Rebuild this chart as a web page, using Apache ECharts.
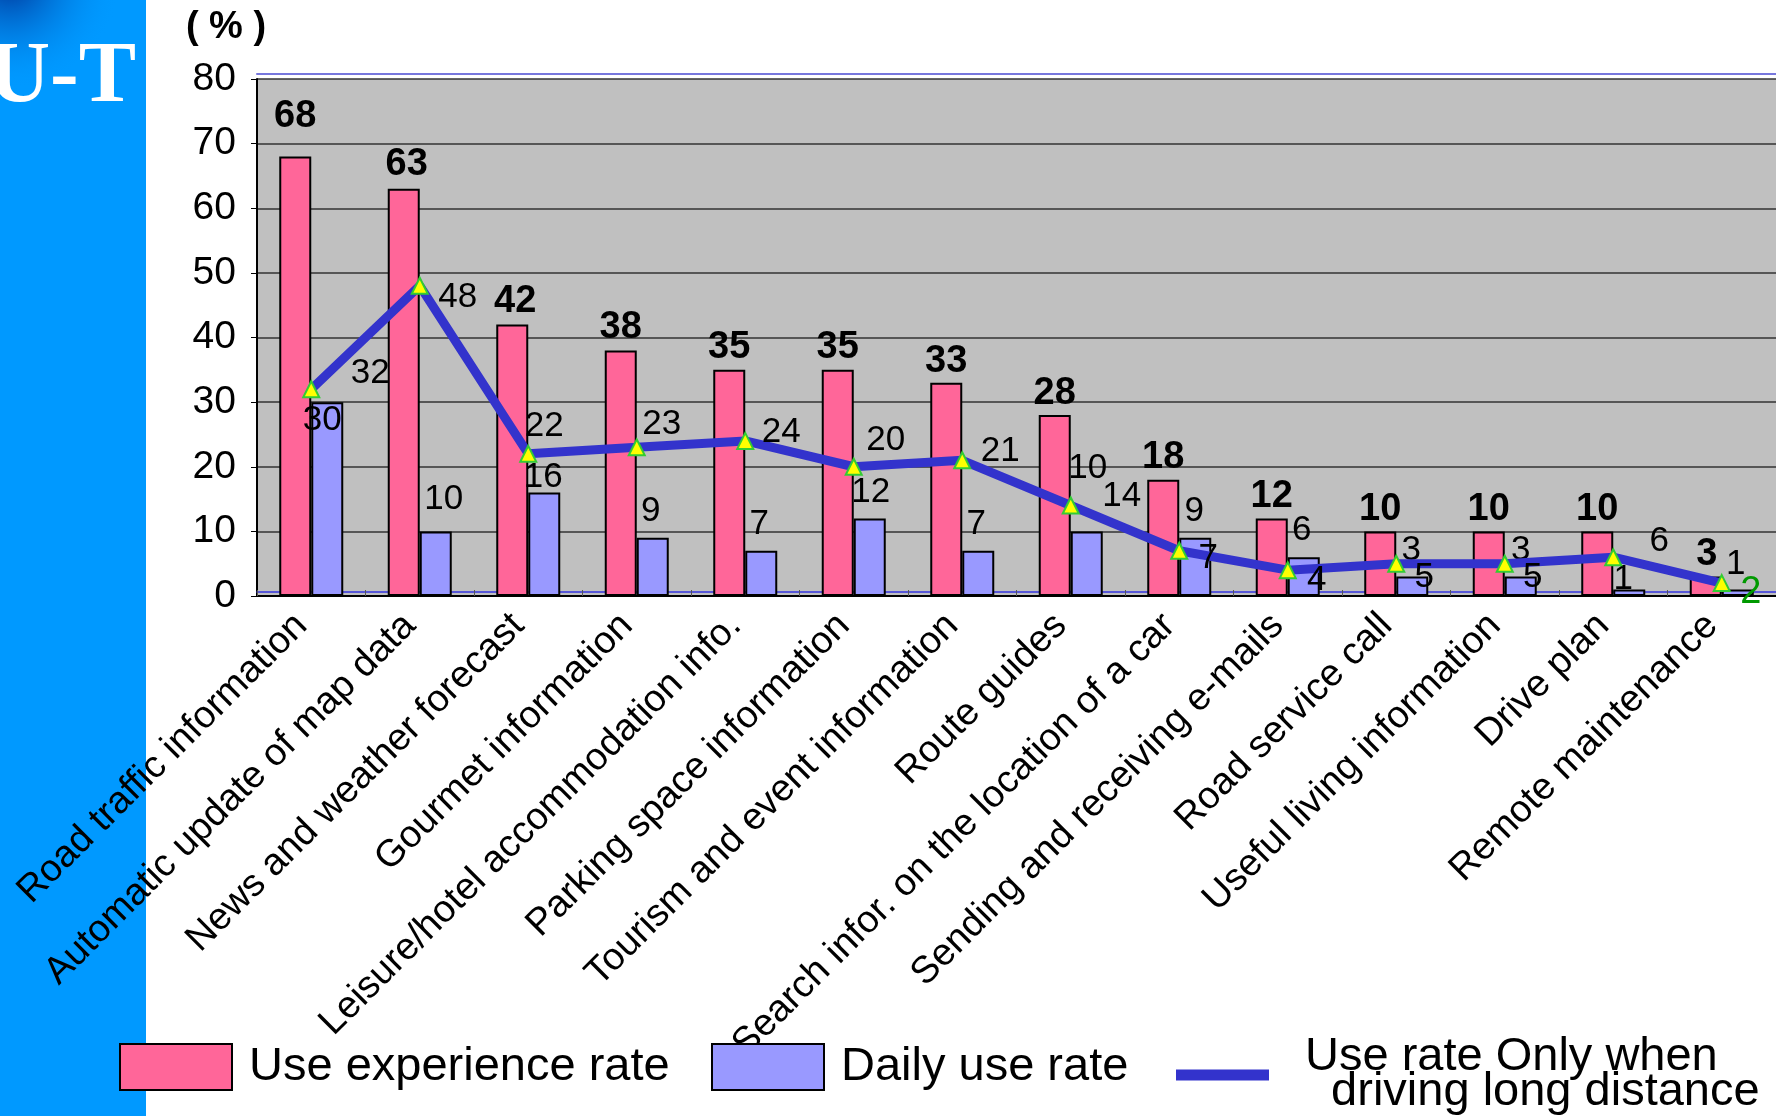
<!DOCTYPE html>
<html>
<head>
<meta charset="utf-8">
<script src="https://cdn.jsdelivr.net/npm/echarts@6/dist/echarts.min.js"></script>
<style>
html,body{margin:0;padding:0;background:#fff;}
#chart{width:1776px;height:1116px;}
</style>
</head>
<body>
<div id="chart"></div>
<script>
// ---- data ----
const categories = [
  'Road traffic information',
  'Automatic update of map data',
  'News and weather forecast',
  'Gourmet information',
  'Leisure/hotel accommodation info.',
  'Parking space information',
  'Tourism and event information',
  'Route guides',
  'Search infor. on the location of a car',
  'Sending and receiving e-mails',
  'Road service call',
  'Useful living information',
  'Drive plan',
  'Remote maintenance'
];
const useExperienceRate = [68, 63, 42, 38, 35, 35, 33, 28, 18, 12, 10, 10, 10, 3];
const dailyUseRate      = [30, 10, 16, 9, 7, 12, 7, 10, 9, 6, 3, 3, 1, 1];
const longDistanceRate  = [32, 48, 22, 23, 24, 20, 21, 14, 7, 4, 5, 5, 6, 2];
const yTicks = [0, 10, 20, 30, 40, 50, 60, 70, 80];
const seriesNames = ['Use experience rate', 'Daily use rate', 'Use rate Only when driving long distance'];

// ---- label placement (style only) ----
const pinkLabelOffsets = [[0,-40],[3,-24],[3,-23],[0,-23],[0,-22],[0,-22],[0,-21],[0,-22],[0,-22],[0,-22],[0,-22],[0,-22],[0,-22],[1,-22]];
const blueLabelOffsets = [[-5,18],[8,-32],[-1,-15],[-2,-26],[-2,-26],[1,-26],[-2,-26],[1,-63],[-1,-26],[-2,-27],[-1,-26],[0,-26],[-6,-10],[-2,-25]];
const lineLabelOffsets = [[59,-16],[38,12],[16,-27],[25,-23],[36,-9],[32,-26],[38,-9],[51,-9],[29,8],[29,10],[28,14],[28,14],[46,-16],[29,9]];

const FONT = '"Liberation Sans", Arial, sans-serif';

const chart = echarts.init(document.getElementById('chart'), null, {renderer: 'canvas'});

const option = {
  animation: false,
  backgroundColor: '#ffffff',
  textStyle: {fontFamily: FONT},
  graphic: [
    {type: 'rect', z: -10, zlevel: 0, silent: true, shape: {x: 0, y: 0, width: 146, height: 1116}, style: {fill: '#0099FF'}},
    {type: 'circle', z: -9, silent: true, shape: {cx: 10, cy: -20, r: 110},
      style: {fill: {type: 'radial', x: 0.5, y: 0.5, r: 0.5, colorStops: [{offset: 0, color: 'rgba(0,40,140,0.9)'}, {offset: 1, color: 'rgba(0,153,255,0)'}]}}},
    {type: 'text', z: -8, silent: true, style: {text: 'U-T', x: -12, y: 79, verticalAlign: 'middle', fill: '#ffffff', font: 'bold 86px "Liberation Serif", "Times New Roman", serif'}}
  ],
  grid: {left: 257, right: 0, top: 79, bottom: 520, show: true, backgroundColor: '#C0C0C0', borderWidth: 0},
  legend: [
    {left: 119, top: 1032, padding: 0, icon: 'rect', itemWidth: 112, itemHeight: 46, itemGap: 0, data: [seriesNames[0]],
      textStyle: {fontSize: 47, lineHeight: 46, color: '#000', fontFamily: FONT, padding: [24, 0, 0, 12]}},
    {left: 711, top: 1032, padding: 0, icon: 'rect', itemWidth: 112, itemHeight: 46, itemGap: 0, data: [seriesNames[1]],
      textStyle: {fontSize: 47, lineHeight: 46, color: '#000', fontFamily: FONT, padding: [24, 0, 0, 12]}},
    {left: 1176, top: 1034, padding: 0, itemWidth: 93, itemHeight: 11, itemGap: 0, icon: 'rect', data: [seriesNames[2]],
      itemStyle: {color: '#3333CC', borderWidth: 0},
      formatter: () => 'Use rate Only when\n  driving long distance',
      textStyle: {fontSize: 47, lineHeight: 35, color: '#000', fontFamily: FONT, padding: [0, 0, 0, 31]}}
  ],
  xAxis: [
    {type: 'category', data: categories, position: 'bottom',
      axisLine: {lineStyle: {color: '#000', width: 2}},
      axisTick: {show: true, inside: true, length: 6, lineStyle: {color: '#555', width: 1}},
      axisLabel: {interval: 0, rotate: 45, fontSize: 38, color: '#000', fontFamily: FONT, margin: 14, padding: [0, 14, 0, 0]}},
    {type: 'category', data: categories, position: 'top', offset: 5,
      axisLine: {lineStyle: {color: '#7777DD', width: 2}}, axisTick: {show: false}, axisLabel: {show: false}},
    {type: 'category', data: categories, position: 'bottom', offset: -4,
      axisLine: {lineStyle: {color: '#3333DD', width: 1.5}}, axisTick: {show: false}, axisLabel: {show: false}}
  ],
  yAxis: {
    type: 'value', min: yTicks[0], max: yTicks[yTicks.length - 1], interval: yTicks[1] - yTicks[0],
    name: '( % )', nameLocation: 'end', nameGap: 32,
    nameTextStyle: {fontSize: 38, color: '#000', fontWeight: 'bold', align: 'center', padding: [0, 62, 0, 0], fontFamily: FONT},
    axisLine: {show: true, lineStyle: {color: '#000', width: 2}},
    axisTick: {show: true, length: 6, lineStyle: {color: '#000'}},
    axisLabel: {fontSize: 39, color: '#000', margin: 21, fontFamily: FONT},
    splitLine: {lineStyle: {color: '#333', width: 1.5}}
  },
  series: [
    {name: seriesNames[0], type: 'bar', barWidth: 32, barGap: '0%',
      itemStyle: {color: '#FF6699', borderColor: '#000', borderWidth: 2},
      label: {show: true, position: 'top', distance: 0, verticalAlign: 'middle', fontSize: 38, fontWeight: 'bold', color: '#000', fontFamily: FONT},
      data: useExperienceRate.map((v, i) => ({value: v, label: {offset: pinkLabelOffsets[i]}}))},
    {name: seriesNames[1], type: 'bar', barWidth: 32, barGap: '0%',
      itemStyle: {color: '#9999FF', borderColor: '#000', borderWidth: 2},
      label: {show: true, position: 'top', distance: 0, verticalAlign: 'middle', fontSize: 35, color: '#000', fontFamily: FONT},
      data: dailyUseRate.map((v, i) => ({value: v, label: {offset: blueLabelOffsets[i]}}))},
    {name: seriesNames[2], type: 'line', z: 5,
      lineStyle: {color: '#3333CC', width: 9},
      symbol: 'triangle', symbolSize: 16,
      itemStyle: {color: '#FFFF00', borderColor: '#33CC33', borderWidth: 2},
      label: {show: true, position: 'inside', fontSize: 35, color: '#000', fontFamily: FONT},
      data: longDistanceRate.map((v, i) => ({value: v, label: Object.assign({offset: lineLabelOffsets[i]}, i === longDistanceRate.length - 1 ? {color: '#009900', fontSize: 38} : {})}))}
  ]
};
chart.setOption(option);
</script>
</body>
</html>
